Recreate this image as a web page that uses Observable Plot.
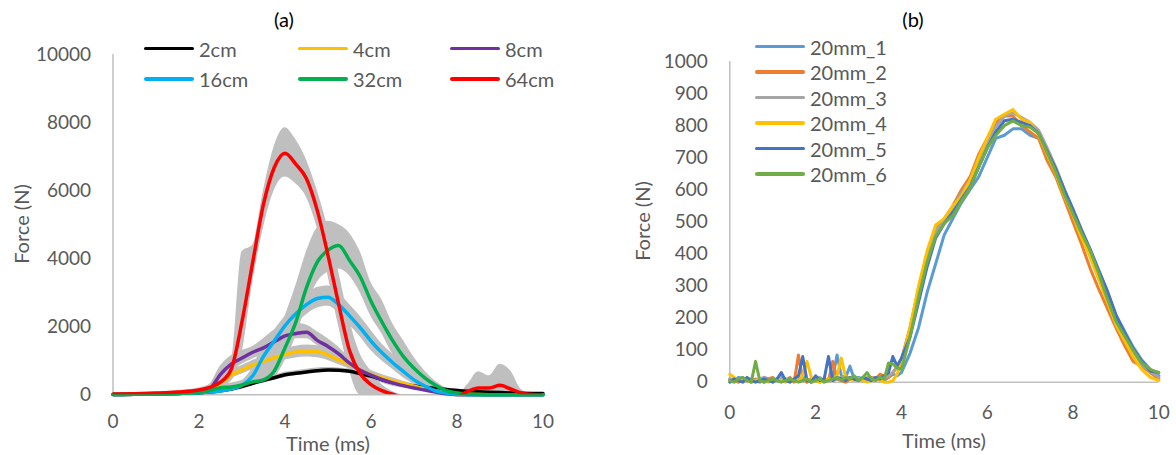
<!DOCTYPE html>
<html>
<head>
<meta charset="utf-8">
<script src="https://cdn.jsdelivr.net/npm/d3@7"></script>
<script src="https://cdn.jsdelivr.net/npm/@observablehq/plot@0.6"></script>
<style>
html, body { margin: 0; padding: 0; background: #fff; }
#wrap { position: relative; width: 1176px; height: 455px; overflow: hidden; font-family: Lato, "Open Sans", sans-serif; }
#wrap svg { position: absolute; top: 0; }
.txt { position: absolute; white-space: nowrap; line-height: 1; font-size: 20px; color: #595959; }
.leg { position: absolute; display: flex; align-items: center; transform: translateY(-50%); font-size: 20px; line-height: 1; color: #595959; white-space: nowrap; }
.leg .sw { display: inline-block; width: 50px; height: 3.5px; margin-right: 5px; border-radius: 2px; }
</style>
</head>
<body>
<div id="wrap"></div>
<script>
// ---------- Panel (a) data ----------
const timeA = [0,0.5,1,1.5,2,2.25,2.5,2.75,3,3.25,3.5,3.75,4,4.25,4.5,4.75,5,5.25,5.5,5.75,6,6.25,6.5,6.75,7,7.25,7.5,7.75,8,8.25,8.5,8.75,9,9.25,9.5,9.75,10];
const namesA = ["2cm","4cm","8cm","16cm","32cm","64cm"];
const colorsA = ["#000000","#FFC000","#7030A0","#00B0F0","#00B050","#FF0000"];

const force2cm = [10,15,25,40,60,80,115,170,240,340,420,500,590,630,670,710,730,720,690,620,550,450,360,300,260,220,185,155,127,105,90,75,65,55,45,40,35];
const low2cm   = [0,5,15,30,45,60,90,140,200,290,370,440,510,560,610,650,670,660,630,560,490,400,310,250,210,175,145,115,95,75,60,50,45,40,35,30,25];
const high2cm  = [20,25,35,50,80,110,150,210,290,400,480,570,660,710,750,790,800,790,760,690,620,520,420,350,300,260,230,200,170,140,120,100,90,80,70,60,50];

const force4cm = [10,15,25,45,80,150,330,580,730,870,980,1090,1180,1255,1280,1270,1170,1020,890,720,600,500,410,330,250,180,120,70,35,15,8,5,5,5,5,5,5];
const low4cm   = [0,5,15,30,60,100,250,470,610,740,840,940,1020,1080,1110,1090,1010,880,760,620,500,420,340,270,200,140,90,40,10,0,0,0,0,0,0,0,0];
const high4cm  = [20,25,35,60,100,200,450,700,860,1010,1130,1260,1360,1430,1460,1440,1340,1190,1030,860,720,600,500,400,310,230,160,100,60,30,20,15,15,15,15,15,15];

const force8cm = [10,15,25,40,70,170,600,900,1080,1250,1380,1560,1730,1800,1840,1600,1420,1200,930,720,580,450,350,270,200,140,80,30,5,0,0,0,0,0,0,0,0];
const low8cm   = [0,5,15,30,50,100,400,700,900,1050,1200,1400,1550,1650,1650,1450,1250,1050,800,600,450,350,250,200,150,100,50,10,0,0,0,0,0,0,0,0,0];
const high8cm  = [20,25,35,50,100,300,850,1150,1300,1420,1650,1900,2000,2100,2050,1850,1650,1400,1100,900,700,550,450,350,270,200,120,60,20,10,10,10,10,10,10,10,10];

const force16cm = [10,15,25,40,60,80,110,170,280,560,1130,1580,2030,2380,2650,2830,2870,2650,2320,1970,1580,1240,950,690,440,260,120,50,15,5,0,0,0,0,0,0,0];
const low16cm   = [0,5,15,30,45,60,80,120,200,350,800,1250,1700,2050,2350,2550,2600,2400,2050,1700,1300,1000,750,500,300,150,60,20,0,0,0,0,0,0,0,0,0];
const high16cm  = [20,25,35,50,80,110,150,250,400,800,1500,1900,2300,2650,2950,3150,3200,3000,2650,2300,1900,1500,1200,900,600,400,200,90,30,10,10,10,10,10,10,10,10];

const force32cm = [10,15,25,40,70,130,210,230,290,380,440,700,1380,2130,3150,3900,4250,4390,3950,3470,2750,2150,1600,1130,780,500,280,120,50,20,10,5,5,5,5,5,5];
const low32cm   = [0,5,15,30,50,100,150,180,220,300,380,500,1000,1700,2600,3300,3600,3700,3500,3000,2300,1800,1200,800,500,300,150,50,0,0,0,0,0,0,0,0,0];
const high32cm  = [20,25,35,50,90,200,300,350,420,600,900,1500,2300,3200,4200,4900,5100,5000,4750,4200,3300,2800,2100,1600,1100,700,400,200,100,50,20,15,15,15,15,15,15];

const force64cm = [20,30,50,80,140,220,370,750,2150,3900,5600,6680,7100,6780,6350,5420,4100,2650,1300,620,300,120,20,-80,-100,-100,-100,-90,-60,100,200,200,280,170,50,10,0];
const low64cm   = [0,10,30,50,90,150,250,400,1200,3300,4900,6000,6400,6200,5800,4900,3500,2000,700,0,0,0,-100,-150,-150,-150,-150,-150,-150,0,50,50,50,0,0,-50,-50];
const high64cm  = [40,50,80,120,200,300,700,1000,4200,4400,6000,7300,7850,7500,6900,6000,4900,3600,2200,1200,700,300,100,0,0,0,0,0,0,300,680,560,900,700,150,30,30];

const yTicksA = [0,2000,4000,6000,8000,10000];
const xTicks = [0,2,4,6,8,10];

// ---------- Panel (b) data ----------
const timeB = [0,0.1,0.2,0.3,0.4,0.5,0.6,0.7,0.8,0.9,1,1.1,1.2,1.3,1.4,1.5,1.6,1.7,1.8,1.9,2,2.1,2.2,2.3,2.4,2.5,2.6,2.7,2.8,2.9,3,3.1,3.2,3.3,3.4,3.5,3.6,3.7,3.8,3.9,4,4.2,4.4,4.6,4.8,5,5.2,5.4,5.6,5.8,6,6.2,6.4,6.6,6.8,7,7.2,7.4,7.6,7.8,8,8.2,8.4,8.6,8.8,9,9.2,9.4,9.6,9.8,10];
const namesB = ["20mm_1","20mm_2","20mm_3","20mm_4","20mm_5","20mm_6"];
const colorsB = ["#5B9BD5","#ED7D31","#A5A5A5","#FFC000","#4472C4","#70AD47"];

const force20mm_1 = [10,5,15,10,5,10,5,0,15,10,5,10,5,10,5,10,5,20,10,0,15,10,5,10,15,85,20,15,50,10,15,10,5,10,15,10,5,15,25,20,
  30,90,170,280,370,460,510,560,600,640,700,760,770,790,790,770,760,720,660,590,530,470,410,345,280,210,160,110,70,40,20];
const force20mm_2 = [5,10,0,10,5,0,10,5,0,10,15,5,10,5,15,0,85,10,0,10,5,0,10,5,65,10,5,0,10,15,10,5,10,15,10,25,20,15,30,50,
  70,170,290,400,480,510,550,600,640,710,760,810,830,830,800,780,760,690,640,570,500,430,355,290,230,170,115,65,50,30,10];
const force20mm_3 = [10,5,10,15,5,10,5,10,15,5,10,5,15,10,5,10,20,5,10,5,10,15,5,10,5,10,15,20,10,15,10,5,15,10,15,10,10,20,30,45,
  65,160,280,390,470,505,545,590,630,690,745,795,830,840,825,810,785,730,670,600,535,470,405,340,275,205,150,95,55,35,15];
const force20mm_4 = [25,15,5,10,5,0,5,10,5,0,5,10,5,0,5,10,5,20,65,15,5,0,5,10,5,20,75,15,10,5,10,5,0,5,10,5,0,0,5,25,
  60,170,300,410,490,510,550,580,630,700,760,820,835,850,820,810,770,710,650,580,520,450,390,320,250,180,130,80,40,15,5];
const force20mm_5 = [0,10,5,0,15,5,0,5,10,5,0,10,30,5,0,10,20,80,5,0,20,5,10,80,5,15,10,5,15,10,5,15,10,5,15,10,20,30,80,50,
  75,140,250,360,450,495,530,570,610,670,730,780,815,820,810,800,775,720,665,600,540,475,415,350,285,210,155,105,65,35,30];
const force20mm_6 = [5,0,10,15,5,0,65,5,0,5,10,5,0,5,10,5,0,5,10,0,5,10,0,5,10,15,5,15,10,20,5,15,30,10,5,15,10,60,57,45,
  40,140,265,375,455,495,520,565,605,670,730,770,800,815,800,795,775,715,655,585,525,465,410,340,260,190,145,100,60,40,30];

const yTicksB = [0,100,200,300,400,500,600,700,800,900,1000];

// ---------- Build tables ----------
const seriesA = [
  {name: namesA[0], f: force2cm,  lo: low2cm,  hi: high2cm},
  {name: namesA[1], f: force4cm,  lo: low4cm,  hi: high4cm},
  {name: namesA[2], f: force8cm,  lo: low8cm,  hi: high8cm},
  {name: namesA[3], f: force16cm, lo: low16cm, hi: high16cm},
  {name: namesA[4], f: force32cm, lo: low32cm, hi: high32cm},
  {name: namesA[5], f: force64cm, lo: low64cm, hi: high64cm}
];
const rowsA = seriesA.flatMap(s => timeA.map((t, i) => ({series: s.name, t, f: s.f[i], lo: s.lo[i], hi: s.hi[i]})));

const seriesB = [force20mm_1, force20mm_2, force20mm_3, force20mm_4, force20mm_5, force20mm_6];
const rowsB = seriesB.flatMap((arr, k) => timeB.map((t, i) => ({series: namesB[k], t, f: arr[i]})));

const axisStyle = {fontFamily: "Lato, 'Open Sans', sans-serif", fontSize: "19px", color: "#595959", background: "transparent", overflow: "visible"};

const plotA = Plot.plot({
  width: 590, height: 455,
  marginLeft: 112.5, marginRight: 47.5, marginTop: 54, marginBottom: 60.7,
  x: {domain: [0, 10]},
  y: {domain: [0, 10000]},
  color: {type: "ordinal", domain: namesA, range: colorsA},
  style: axisStyle,
  marks: [
    Plot.areaY(rowsA, {x: "t", y1: "lo", y2: "hi", z: "series", fill: "#BFBFBF", curve: "monotone-x", clip: true}),
    Plot.ruleY([0], {stroke: "#BFBFBF", strokeWidth: 1.5}),
    Plot.ruleX([0], {stroke: "#BFBFBF", strokeWidth: 1.5}),
    Plot.line(rowsA.filter(d => d.series !== "64cm"), {x: "t", y: "f", z: "series", stroke: "series", strokeWidth: 3.5, curve: "monotone-x"}),
    Plot.line(rowsA.filter(d => d.series === "64cm"), {x: "t", y: "f", z: "series", stroke: "series", strokeWidth: 3.5, curve: "monotone-x", clip: true}),
    Plot.axisX({ticks: xTicks, tickSize: 0, tickPadding: 20, label: null}),
    Plot.axisY({ticks: yTicksA, tickSize: 0, tickPadding: 22, tickFormat: d => String(d), label: null})
  ]
});
plotA.style.left = "0px";

const plotB = Plot.plot({
  width: 586, height: 455,
  marginLeft: 139.3, marginRight: 17.7, marginTop: 61, marginBottom: 73.3,
  x: {domain: [0, 10]},
  y: {domain: [0, 1000]},
  color: {type: "ordinal", domain: namesB, range: colorsB},
  style: axisStyle,
  marks: [
    Plot.ruleY([0], {stroke: "#BFBFBF", strokeWidth: 1.5}),
    Plot.ruleX([0], {stroke: "#BFBFBF", strokeWidth: 1.5}),
    Plot.line(rowsB, {x: "t", y: "f", z: "series", stroke: "series", strokeWidth: 3}),
    Plot.axisX({ticks: xTicks, tickSize: 0, tickPadding: 23, label: null}),
    Plot.axisY({ticks: yTicksB, tickSize: 0, tickPadding: 22, tickFormat: d => String(d), label: null})
  ]
});
plotB.style.left = "590px";

const wrap = document.getElementById("wrap");
wrap.appendChild(plotA);
wrap.appendChild(plotB);

// ---------- Text overlays ----------
function addText(txt, x, y, rotate, color) {
  const d = document.createElement("div");
  d.className = "txt";
  d.textContent = txt;
  d.style.left = x + "px";
  d.style.top = y + "px";
  d.style.transform = "translate(-50%,-50%)" + (rotate ? " rotate(-90deg)" : "");
  if (color) d.style.color = color;
  wrap.appendChild(d);
}
addText("(a)", 284, 18.5, false, "#000");
addText("(b)", 913, 19, false, "#000");
addText("Time (ms)", 328, 443);
addText("Time (ms)", 944, 440);
addText("Force (N)", 21, 224, true);
addText("Force (N)", 642, 221, true);

function addLegendItem(name, color, x, y) {
  const d = document.createElement("div");
  d.className = "leg";
  d.style.left = x + "px";
  d.style.top = y + "px";
  const sw = document.createElement("span");
  sw.className = "sw";
  sw.style.background = color;
  const tx = document.createElement("span");
  tx.textContent = name;
  d.appendChild(sw);
  d.appendChild(tx);
  wrap.appendChild(d);
}
const legColX = [144, 298, 450];
const legRowY = [48.5, 79];
namesA.forEach((n, i) => addLegendItem(n, colorsA[i], legColX[i % 3], legRowY[Math.floor(i / 3)]));
namesB.forEach((n, i) => addLegendItem(n, colorsB[i], 755, 46.7 + i * 25.45));
</script>
</body>
</html>
